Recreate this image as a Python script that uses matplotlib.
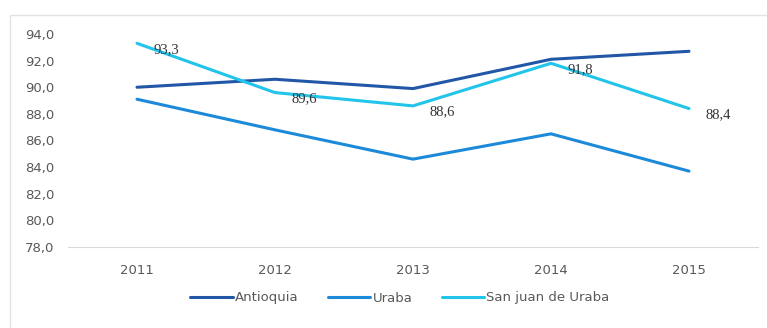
import matplotlib
matplotlib.use("Agg")
import matplotlib.pyplot as plt
from matplotlib.patches import Rectangle
from matplotlib.ticker import FuncFormatter

years = ["2011", "2012", "2013", "2014", "2015"]
antioquia = [90.0, 90.6, 89.9, 92.1, 92.7]
uraba = [89.1, 86.8, 84.6, 86.5, 83.7]
san_juan = [93.3, 89.6, 88.6, 91.8, 88.4]

series = [
    ("Antioquia", antioquia, "#2257a8"),
    ("Uraba", uraba, "#1c8ad8"),
    ("San juan de Uraba", san_juan, "#22c4ea"),
]

fig = plt.figure(figsize=(7.67, 3.28), dpi=100)
fig.patch.set_facecolor("white")
# faint outer chart frame
fig.patches.append(Rectangle((10 / 767, -0.01), 1.0, 1 - 15 / 328 + 0.01,
                             transform=fig.transFigure, fill=False,
                             edgecolor="#e3e3e3", lw=1.0))

ax = fig.add_axes([68 / 767, 1 - 247 / 328, 690 / 767, 213 / 328])
x = range(len(years))
for name, vals, col in series:
    ax.plot(x, vals, color=col, lw=2.2, label=name, solid_capstyle="round")

for i, v in enumerate(san_juan):
    ax.annotate(f"{v:.1f}".replace(".", ","), (i, v), xytext=(16, -6),
                textcoords="offset pixels", ha="left", va="center",
                fontsize=10.5, family="Liberation Serif", color="#333333")

ax.set_xlim(-0.5, 4.5)
ax.set_ylim(78, 94)
ax.set_yticks(range(78, 95, 2))
ax.yaxis.set_major_formatter(FuncFormatter(lambda v, p: f"{v:.1f}".replace(".", ",")))
ax.set_xticks(list(x))
ax.set_xticklabels(years)
for s in ["top", "right", "left"]:
    ax.spines[s].set_visible(False)
ax.spines["bottom"].set_color("#d9d9d9")
ax.tick_params(axis="both", length=0, labelsize=9.5, colors="#595959")
ax.tick_params(axis="y", pad=10)
ax.tick_params(axis="x", pad=12)

ax.legend(loc="center", bbox_to_anchor=(400 / 767, 1 - 298 / 328),
          bbox_transform=fig.transFigure, ncol=3, frameon=False,
          fontsize=9.5, handlelength=3.2, handletextpad=0.2, columnspacing=2.2,
          labelcolor="#595959")

fig.savefig("out.png", dpi=100)
